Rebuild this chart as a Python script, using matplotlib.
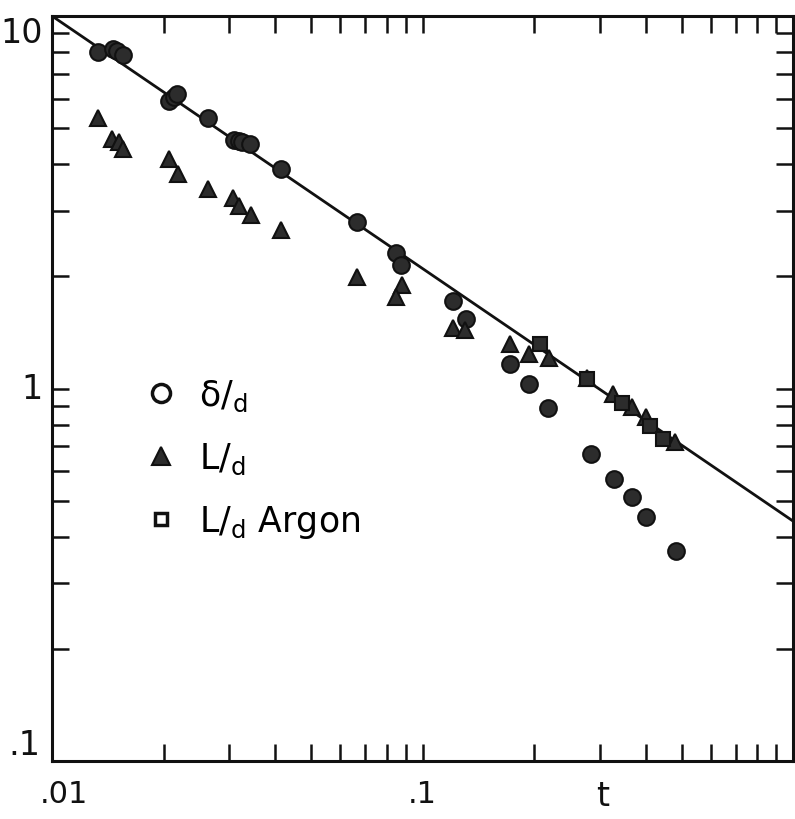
import matplotlib
matplotlib.use("Agg")
import matplotlib.pyplot as plt
from matplotlib.lines import Line2D
from matplotlib.ticker import LogLocator, NullFormatter
from matplotlib import transforms

plt.rcParams['font.family'] = ['DejaVu Sans']
plt.rcParams['mathtext.fontset'] = 'dejavusans'

# delta/d points (x = t, y = delta/d)
delta_t = [0.0133, 0.0146, 0.0150, 0.0155, 0.0207, 0.0214, 0.0218, 0.0264,
           0.0310, 0.0319, 0.0325, 0.0342, 0.0414, 0.0666, 0.0847, 0.0873,
           0.121, 0.131, 0.172, 0.194, 0.218, 0.284, 0.329, 0.366, 0.401, 0.483]
delta_v = [8.00, 8.15, 8.05, 7.86, 5.91, 6.06, 6.17, 5.32,
           4.65, 4.62, 4.59, 4.53, 3.88, 2.80, 2.31, 2.15,
           1.72, 1.54, 1.16, 1.03, 0.886, 0.667, 0.571, 0.511, 0.452, 0.366]

# L/d points
L_t = [0.0133, 0.0145, 0.0152, 0.0155, 0.0207, 0.0219, 0.0264, 0.0308,
       0.0319, 0.0344, 0.0414, 0.0666, 0.0878, 0.0847, 0.121, 0.130,
       0.172, 0.194, 0.219, 0.277, 0.327, 0.366, 0.401, 0.480]
L_v = [5.32, 4.68, 4.59, 4.40, 4.13, 3.77, 3.43, 3.25,
       3.09, 2.92, 2.66, 1.99, 1.90, 1.76, 1.45, 1.44,
       1.32, 1.24, 1.21, 1.07, 0.967, 0.892, 0.839, 0.718]

# L/d, argon
argon_t = [0.207, 0.277, 0.344, 0.411, 0.446]
argon_v = [1.32, 1.06, 0.914, 0.793, 0.732]

# straight line on the log-log plot
fit_t = [0.01, 1.0]
fit_v = [10.0, 0.44]

ink = "#111111"
fill = "#2c2c2c"

fig = plt.figure(figsize=(7.95, 8.2), dpi=100)
ax = fig.add_axes([0.0654, 0.0707, 0.9326, 0.9086])
ax.set_xscale("log")
ax.set_yscale("log")
ax.set_xlim(0.01, 1.0)
ax.set_ylim(0.1, 10)

ax.plot(fit_t, fit_v, "-", color=ink, lw=2.0, zorder=2)
ax.plot(delta_t, delta_v, "o", ms=12, mfc=fill, mec=ink, mew=1.5, zorder=3)
ax.plot(L_t, L_v, "^", ms=11, mfc=fill, mec=ink, mew=1.5, zorder=3)
ax.plot(argon_t, argon_v, "s", ms=10, mfc=fill, mec=ink, mew=1.5, zorder=3)

for s in ax.spines.values():
    s.set_linewidth(2.2)
    s.set_color(ink)

ax.xaxis.set_major_locator(LogLocator(base=10))
ax.xaxis.set_minor_locator(LogLocator(base=10, subs=range(2, 10)))
ax.yaxis.set_major_locator(LogLocator(base=10))
ax.yaxis.set_minor_locator(LogLocator(base=10, subs=range(2, 10)))
for axis in (ax.xaxis, ax.yaxis):
    axis.set_major_formatter(NullFormatter())
    axis.set_minor_formatter(NullFormatter())
ax.tick_params(which="both", direction="in", top=True, right=True,
               length=12, width=1.8, color=ink)

# tick labels
tx = transforms.blended_transform_factory(ax.transData, ax.transAxes)
ty = transforms.blended_transform_factory(ax.transAxes, ax.transData)
ax.text(0.0108, -0.024, ".01", transform=tx, ha="center", va="top",
        fontsize=22, color=ink)
ax.text(0.1, -0.024, ".1", transform=tx, ha="center", va="top",
        fontsize=22, color=ink)
ax.text(-0.012, 10, "10", transform=ty, ha="right", va="top",
        fontsize=24, color=ink)
ax.text(-0.012, 1, "1", transform=ty, ha="right", va="center",
        fontsize=24, color=ink)
ax.text(-0.015, 0.1, ".1", transform=ty, ha="right", va="bottom",
        fontsize=24, color=ink)
ax.text(0.305, -0.024, "t", transform=tx, ha="center", va="top",
        fontsize=24, color=ink)

handles = [
    Line2D([], [], ls="", marker="o", ms=13, mfc="white", mec=ink, mew=2.5),
    Line2D([], [], ls="", marker="^", ms=13, mfc=fill, mec=ink, mew=1.5),
    Line2D([], [], ls="", marker="s", ms=9, mfc="white", mec=ink, mew=2.5),
]
labels = [r"$\mathregular{\delta/_d}$", r"$\mathregular{L/_d}$",
          r"$\mathregular{L/_d}$ Argon"]
ax.legend(handles, labels, loc="upper left", bbox_to_anchor=(0.081, 0.556),
          frameon=False, fontsize=25, handlelength=1.0, handletextpad=0.6,
          labelspacing=0.78)

fig.savefig("out.png", dpi=100)
